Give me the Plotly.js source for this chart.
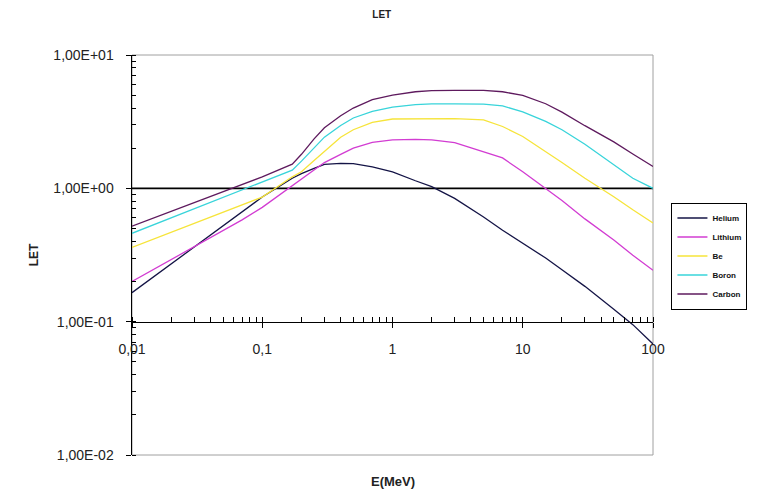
<!DOCTYPE html>
<html><head><meta charset="utf-8">
<script src="https://cdn.plot.ly/plotly-3.0.1.min.js"></script>
<style>html,body{margin:0;padding:0;background:#fff}</style>
</head><body><div id="chart" style="width:759px;height:496px"></div>
<script>
// Energy values (MeV)
const energy = [0.01, 0.02, 0.03, 0.05, 0.07, 0.1, 0.17, 0.2, 0.25, 0.3, 0.4, 0.5, 0.7, 1, 1.5, 2, 3, 5, 7, 10, 15, 20, 30, 50, 70, 100];
// LET values per ion
const helium  = [0.165, 0.27, 0.36, 0.52, 0.665, 0.86, 1.19, 1.29, 1.41, 1.51, 1.54, 1.53, 1.45, 1.33, 1.14, 1.03, 0.84, 0.61, 0.485, 0.385, 0.30, 0.245, 0.184, 0.124, 0.095, 0.068];
const lithium = [0.20, 0.293, 0.366, 0.485, 0.58, 0.72, 1.05, 1.16, 1.38, 1.56, 1.8, 2.0, 2.21, 2.31, 2.33, 2.31, 2.2, 1.89, 1.69, 1.33, 0.99, 0.81, 0.59, 0.41, 0.315, 0.243];
const beryl   = [0.36, 0.468, 0.545, 0.66, 0.75, 0.86, 1.22, 1.33, 1.62, 1.9, 2.42, 2.75, 3.12, 3.31, 3.33, 3.33, 3.33, 3.26, 2.91, 2.45, 1.89, 1.56, 1.19, 0.865, 0.69, 0.55];
const boron   = [0.46, 0.60, 0.70, 0.855, 0.975, 1.12, 1.37, 1.6, 2.0, 2.42, 2.96, 3.37, 3.78, 4.07, 4.24, 4.3, 4.3, 4.28, 4.15, 3.75, 3.18, 2.75, 2.14, 1.5, 1.19, 1.0];
const carbon  = [0.52, 0.67, 0.78, 0.94, 1.07, 1.22, 1.52, 1.8, 2.35, 2.85, 3.5, 4.0, 4.62, 5.0, 5.3, 5.4, 5.43, 5.42, 5.3, 4.98, 4.31, 3.73, 2.95, 2.23, 1.81, 1.46];

const seriesNames  = ['Helium', 'Lithium', 'Be', 'Boron', 'Carbon'];
const seriesValues = [helium, lithium, beryl, boron, carbon];
const seriesColors = ['#141446', '#d23cd2', '#f6e43a', '#38d4da', '#5e1a5e'];

const xTickVals = [0.01, 0.1, 1, 10, 100];
const xTickText = ['0,01', '0,1', '1', '10', '100'];
const yTickVals = [0.01, 0.1, 1, 10];
const yTickText = ['1,00E-02', '1,00E-01', '1,00E+00', '1,00E+01'];

const FONT = 'Liberation Sans, Arial, sans-serif';

function minorTicks(decades) {
  const out = [];
  decades.forEach(d => { for (let m = 1; m <= 9; m++) out.push(d * m); });
  return out;
}
const minorX = minorTicks([0.01, 0.1, 1, 10]).concat([100]);
const minorY = minorTicks([0.01, 0.1, 1]).concat([10]);

const traces = seriesNames.map((n, i) => ({
  type: 'scatter', mode: 'lines', name: n,
  x: energy, y: seriesValues[i],
  line: {color: seriesColors[i], width: 1.3}
}));

const layout = {
  width: 759, height: 496,
  margin: {l: 132, r: 90, t: 55, b: 41},
  paper_bgcolor: '#fff', plot_bgcolor: '#fff',
  showlegend: true,
  title: {text: 'LET', x: 0.503, xref: 'container', xanchor: 'center',
          y: 1 - 14 / 496, yref: 'container', yanchor: 'middle',
          font: {family: FONT, size: 10, weight: 'bold', color: '#222'}},
  xaxis: {
    type: 'log', range: [-2, 2], anchor: 'free', position: 1 / 3,
    showline: true, linecolor: '#000', linewidth: 1.5,
    ticks: 'outside', ticklen: 5, tickcolor: '#000', tickwidth: 1,
    tickvals: xTickVals, ticktext: xTickText, ticklabelstandoff: 9,
    tickfont: {family: FONT, size: 14, color: '#222'},
    showgrid: false, zeroline: false,
    minor: {tickvals: minorX, ticks: 'inside', ticklen: 5, tickcolor: '#000', showgrid: false}
  },
  yaxis: {
    type: 'log', range: [-2, 1],
    showline: true, linecolor: '#000', linewidth: 1.5,
    ticks: 'outside', ticklen: 5, tickcolor: '#000', tickwidth: 1,
    tickvals: yTickVals, ticktext: yTickText, ticklabelstandoff: 9,
    tickfont: {family: FONT, size: 14, color: '#222'},
    showgrid: false, zeroline: false,
    minor: {tickvals: minorY, ticks: 'inside', ticklen: 4, tickcolor: '#000', showgrid: false},
    title: {text: 'LET', standoff: 12, font: {family: FONT, size: 12, weight: 'bold', color: '#222'}}
  },
  legend: {
    x: (688 - 132) / 537, xanchor: 'left', y: (455 - 256) / 400, yanchor: 'middle',
    bgcolor: '#fff', bordercolor: '#000', borderwidth: 1,
    font: {family: FONT, size: 8, weight: 'bold', color: '#111'},
    itemwidth: 30
  },
  annotations: [{
    text: 'E(MeV)', xref: 'paper', yref: 'paper', x: 0.5, y: -(482 - 455) / 400,
    yanchor: 'middle', showarrow: false,
    font: {family: FONT, size: 13, weight: 'bold', color: '#222'}
  }],
  shapes: [
    {type: 'rect', xref: 'paper', yref: 'paper', x0: 0, x1: 1, y0: 0, y1: 1,
     line: {color: '#a0a0a0', width: 1}, layer: 'below'},
    {type: 'line', xref: 'paper', yref: 'y', x0: 0, x1: 1, y0: 1, y1: 1,
     line: {color: '#000', width: 1.6}, layer: 'below'}
  ]
};

Plotly.newPlot('chart', traces, layout, {staticPlot: true, displayModeBar: false});
</script>
</body></html>
